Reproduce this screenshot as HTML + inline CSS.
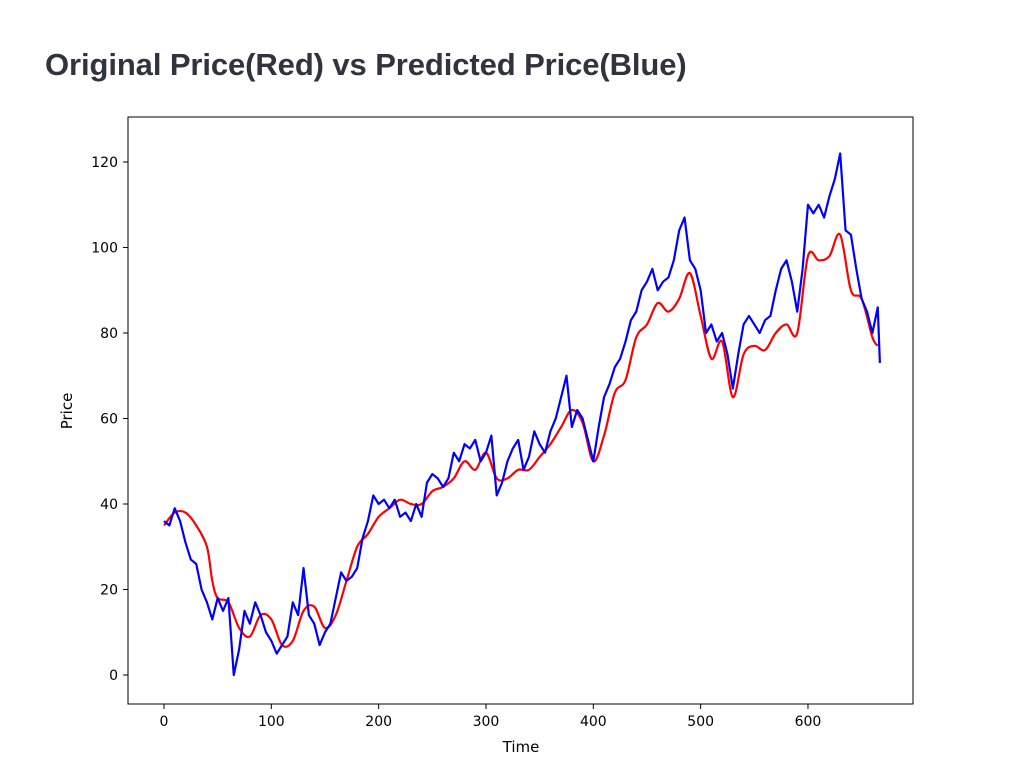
<!DOCTYPE html>
<html><head><meta charset="utf-8"><style>
body{margin:0;background:#fff;width:1025px;height:766px;overflow:hidden}
h1{position:absolute;left:45px;top:47px;margin:0;font:bold 31px "Liberation Sans",sans-serif;color:#31333f;letter-spacing:-0.1px}
</style></head><body>
<h1>Original Price(Red) vs Predicted Price(Blue)</h1>
<svg id="c" width="1025" height="766" style="position:absolute;left:0;top:0"></svg>
<script>
const blueT=[0,5,10,15,20,25,30,35,40,45,50,55,60,65,70,75,80,85,90,95,100,105,110,115,120,125,130,135,140,145,150,155,160,165,170,175,180,185,190,195,200,205,210,215,220,225,230,235,240,245,250,255,260,265,270,275,280,285,290,295,300,305,310,315,320,325,330,335,340,345,350,355,360,365,370,375,380,385,390,395,400,405,410,415,420,425,430,435,440,445,450,455,460,465,470,475,480,485,490,495,500,505,510,515,520,525,530,535,540,545,550,555,560,565,570,575,580,585,590,595,600,605,610,615,620,625,630,635,640,645,650,655,660,665,667];
const blueV=[36,35,39,36,31,27,26,20,17,13,18,15,18,0,6,15,12,17,14,10,8,5,7,9,17,14,25,14,12,7,10,12,18,24,22,23,25,32,36,42,40,41,39,41,37,38,36,40,37,45,47,46,44,46,52,50,54,53,55,50,52,56,42,45,50,53,55,48,51,57,54,52,57,60,65,70,58,62,60,55,50,58,65,68,72,74,78,83,85,90,92,95,90,92,93,97,104,107,97,95,90,80,82,78,80,75,67,75,82,84,82,80,83,84,90,95,97,92,85,95,110,108,110,107,112,116,122,104,103,95,88,85,80,86,73];
const redT=[0,10,20,30,40,45,50,60,70,80,90,100,110,120,130,140,150,160,170,180,190,200,210,220,230,240,250,260,270,280,290,300,310,320,330,340,350,360,370,380,390,400,410,420,430,440,450,460,470,480,490,500,510,520,530,540,550,560,570,580,590,600,610,620,630,640,650,660,665];
const redV=[35,38,38,35,30,22,18,17,11,9,14,13,7,8,15,16,11,14,22,30,33,37,39,41,40,40,43,44,46,50,48,52,46,46,48,48,51,54,58,62,59,50,56,66,69,79,82,87,85,88,94,84,74,78,65,75,77,76,80,82,80,98,97,98,103,90,88,79,77];
const xTicks=[0,100,200,300,400,500,600];
const yTicks=[0,20,40,60,80,100,120];
const NS='http://www.w3.org/2000/svg',svg=document.getElementById('c');
const X=t=>164+1.0733*t, Y=v=>675-4.275*v;
function mk(tag,at){const e=document.createElementNS(NS,tag);for(const k in at)e.setAttribute(k,at[k]);svg.appendChild(e);return e;}
function smoothPath(ts,vs){const P=ts.map((t,i)=>[X(t),Y(vs[i])]);let d='M'+P[0];
for(let i=0;i<P.length-1;i++){const p0=P[i-1]||P[i],p1=P[i],p2=P[i+1],p3=P[i+2]||p2;
const c1=[p1[0]+(p2[0]-p0[0])/6,p1[1]+(p2[1]-p0[1])/6],c2=[p2[0]-(p3[0]-p1[0])/6,p2[1]-(p3[1]-p1[1])/6];
d+=' C'+c1+' '+c2+' '+p2;}return d;}
const red=mk('path',{d:smoothPath(redT,redV),fill:'none',stroke:'#ff0000','stroke-width':2.2});


const blue=mk('polyline',{points:blueT.map((t,i)=>X(t)+','+Y(blueV[i])).join(' '),fill:'none',stroke:'#0000ff','stroke-width':2.2,'stroke-linejoin':'round'});


const box=mk('rect',{x:128,y:117,width:785,height:587,fill:'none',stroke:'#000','stroke-width':1});


xTicks.forEach(t=>{mk('line',{x1:X(t),x2:X(t),y1:704,y2:709,stroke:'#000'});
const e=mk('text',{x:X(t),y:726,'text-anchor':'middle','font-size':14,'font-family':'DejaVu Sans,sans-serif'});e.textContent=t;

});
yTicks.forEach(v=>{mk('line',{x1:123,x2:128,y1:Y(v),y2:Y(v),stroke:'#000'});
const e=mk('text',{x:118,y:Y(v)+5,'text-anchor':'end','font-size':14,'font-family':'DejaVu Sans,sans-serif'});e.textContent=v;

});
const xl=mk('text',{x:521,y:752,'text-anchor':'middle','font-size':15,'font-family':'DejaVu Sans,sans-serif'});xl.textContent='Time';


const yl=mk('text',{x:72,y:411,'text-anchor':'middle','font-size':15,'font-family':'DejaVu Sans,sans-serif',transform:'rotate(-90 72 411)'});yl.textContent='Price';


</script>
</body></html>
